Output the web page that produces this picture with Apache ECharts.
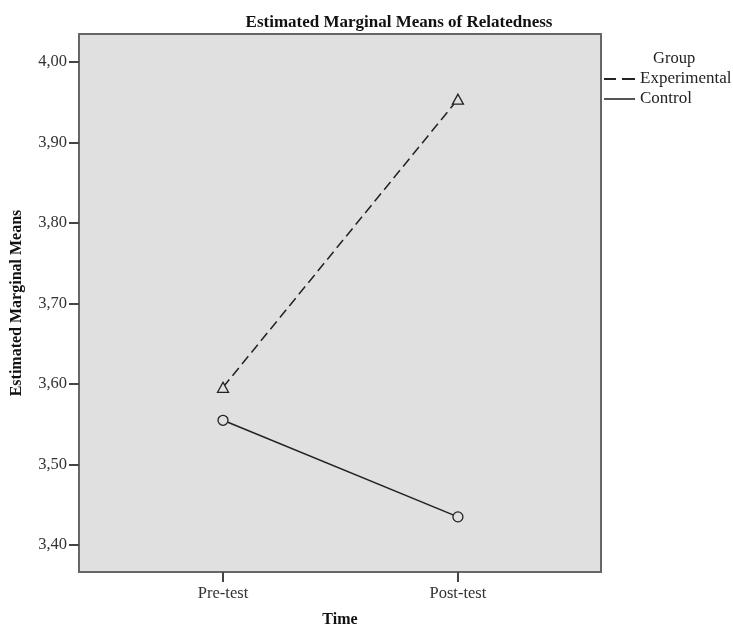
<!DOCTYPE html>
<html>
<head>
<meta charset="utf-8">
<script src="https://cdn.jsdelivr.net/npm/echarts@6/dist/echarts.min.js"></script>
<style>
html,body{margin:0;padding:0;background:#fff;}
#c{width:733px;height:630px;}
</style>
</head>
<body>
<div id="c"></div>
<script>
const categories = ['Pre-test', 'Post-test'];
const experimental = [3.596, 3.954];
const control = [3.555, 3.435];
const yTicks = [3.40, 3.50, 3.60, 3.70, 3.80, 3.90, 4.00];
const seriesNames = ['Experimental', 'Control'];

const chart = echarts.init(document.getElementById('c'), null, {renderer: 'canvas'});
const serif = 'Liberation Serif';
const toPts = arr => arr.map((v, i) => [i, v]);

chart.setOption({
  backgroundColor: '#ffffff',
  animation: false,
  title: [
    {
      text: 'Estimated Marginal Means of Relatedness',
      left: 394, top: 9, textAlign: 'center',
      textStyle: {fontFamily: serif, fontSize: 17, fontWeight: 'bold', color: '#111'}
    },
    {
      text: 'Group',
      left: 648, top: 45,
      textStyle: {fontFamily: serif, fontSize: 16.5, fontWeight: 'normal', color: '#222'}
    }
  ],
  legend: {
    orient: 'vertical',
    left: 604, top: 69,
    itemGap: 0,
    itemWidth: 31, itemHeight: 2,
    padding: 0,
    textStyle: {fontFamily: serif, fontSize: 17, color: '#222', lineHeight: 20},
    data: [
      {name: seriesNames[0], icon: 'path://M0,0H12V2H0Z M18,0H31V2H18Z', itemStyle: {color: '#222', borderWidth: 0}},
      {name: seriesNames[1], icon: 'path://M0,0H31V2H0Z', itemStyle: {color: '#555', borderWidth: 0}}
    ]
  },
  grid: {
    left: 79, right: 132, top: 34, bottom: 58,
    outerBoundsMode: 'none',
    containLabel: false,
    show: true, backgroundColor: '#e0e0e0', borderColor: '#666', borderWidth: 2
  },
  xAxis: {
    type: 'value',
    min: -0.613, max: 1.609,
    name: 'Time', nameLocation: 'middle', nameGap: 40,
    nameTextStyle: {fontFamily: serif, fontSize: 16, fontWeight: 'bold', color: '#111'},
    axisLine: {show: false, onZero: false},
    splitLine: {show: false},
    axisTick: {show: true, customValues: [0, 1], length: 10, lineStyle: {color: '#444', width: 2}},
    axisLabel: {
      customValues: [0, 1], margin: 13,
      formatter: v => categories[Math.round(v)],
      fontFamily: serif, fontSize: 16.5, color: '#333'
    }
  },
  yAxis: {
    type: 'value',
    min: 3.3665, max: 4.035,
    name: 'Estimated Marginal Means', nameLocation: 'middle', nameGap: 54,
    nameTextStyle: {fontFamily: serif, fontSize: 16, fontWeight: 'bold', color: '#111'},
    axisLine: {show: false, onZero: false},
    splitLine: {show: false},
    axisTick: {show: true, customValues: yTicks, length: 10, lineStyle: {color: '#444', width: 2}},
    axisLabel: {
      customValues: yTicks, margin: 12,
      formatter: v => v.toFixed(2).replace('.', ','),
      fontFamily: serif, fontSize: 16.5, color: '#333'
    }
  },
  series: [
    {
      name: seriesNames[0], type: 'line',
      data: toPts(experimental),
      symbol: 'triangle', symbolSize: [11, 10],
      itemStyle: {color: '#e0e0e0', borderColor: '#222', borderWidth: 1.3},
      lineStyle: {color: '#222', width: 1.5, type: [10, 5]}
    },
    {
      name: seriesNames[1], type: 'line',
      data: toPts(control),
      symbol: 'circle', symbolSize: 10,
      itemStyle: {color: '#e0e0e0', borderColor: '#222', borderWidth: 1.3},
      lineStyle: {color: '#222', width: 1.5}
    }
  ]
});
</script>
</body>
</html>
